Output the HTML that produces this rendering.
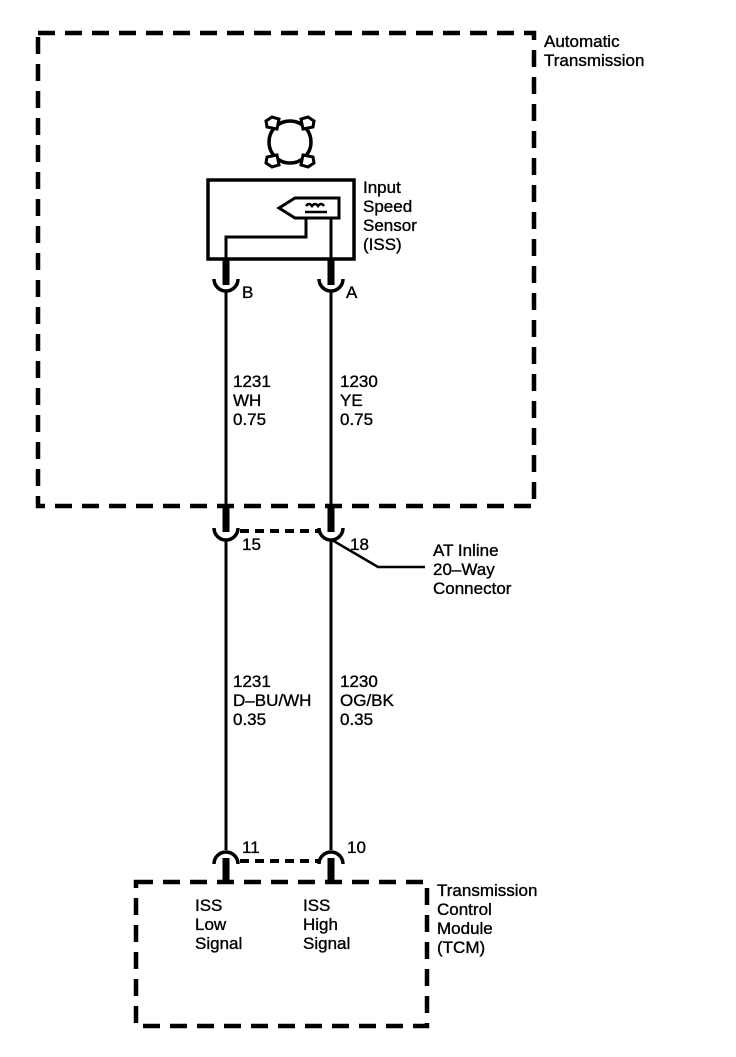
<!DOCTYPE html>
<html><head><style>
html,body{margin:0;padding:0;background:#fff;}
svg text{font-family:"Liberation Sans",Arial,sans-serif;font-size:17px;fill:#000;stroke:#000;stroke-width:0.35;}
</style></head><body>
<svg width="736" height="1052" viewBox="0 0 736 1052" xmlns="http://www.w3.org/2000/svg">
<g fill="none" stroke="#000">
<rect x="38" y="33" width="496" height="473" stroke-width="4.5" stroke-dasharray="17,10"/>
<rect x="136" y="882" width="291" height="144" stroke-width="4.5" stroke-dasharray="17,10"/>
<circle cx="290" cy="142" r="21" stroke-width="3.5"/>
<g stroke-width="3" fill="#fff">
<path d="M277 129 L267 127 L266 121 L272 117 L279 119 Z"/>
<path d="M303 129 L313 127 L314 121 L308 117 L301 119 Z"/>
<path d="M277 155 L267 157 L266 163 L272 167 L279 165 Z"/>
<path d="M303 155 L313 157 L314 163 L308 167 L301 165 Z"/>
</g>
<rect x="208" y="180" width="146" height="79" stroke-width="3.5"/>
<path d="M339 198 H295 L279 208 L295 218 H339 Z" stroke-width="3"/>
<path d="M306 218 V237 H226 V259" stroke-width="3"/>
<path d="M331 218 V259" stroke-width="3"/>
<path d="M306 206 q3 -4 6 0 q3 -4 6 0 q3 -4 6 0" stroke-width="2.5"/>
<path d="M305 212 H327" stroke-width="2.5"/>
<path d="M226 290 V520 M331 290 V520 M226 540 V850 M331 540 V850" stroke-width="3"/>
<path d="M226 259 V285 M331 259 V285 M226 506 V532 M331 506 V532 M226 858 V882 M331 858 V882" stroke-width="7"/>
<path d="M214 279 a12 12 0 0 0 24 0 M319 279 a12 12 0 0 0 24 0" stroke-width="3.5"/>
<path d="M214 528 a12 12 0 0 0 24 0 M319 528 a12 12 0 0 0 24 0" stroke-width="3.5"/>
<path d="M214 864 a12 12 0 0 1 24 0 M319 864 a12 12 0 0 1 24 0" stroke-width="3.5"/>
<path d="M240 531 H318" stroke-width="4" stroke-dasharray="9,6"/>
<path d="M240 861 H318" stroke-width="4" stroke-dasharray="9,6"/>
<path d="M332 540 L378 567 H425" stroke-width="2.5"/>
</g>
<text x="544" y="47">Automatic</text>
<text x="544" y="66">Transmission</text>
<text x="363" y="193">Input</text>
<text x="363" y="212">Speed</text>
<text x="363" y="231">Sensor</text>
<text x="363" y="250">(ISS)</text>
<text x="242" y="298">B</text>
<text x="346" y="298">A</text>
<text x="233" y="387">1231</text>
<text x="233" y="406">WH</text>
<text x="233" y="425">0.75</text>
<text x="340" y="387">1230</text>
<text x="340" y="406">YE</text>
<text x="340" y="425">0.75</text>
<text x="242" y="550">15</text>
<text x="350" y="550">18</text>
<text x="433" y="556">AT Inline</text>
<text x="433" y="575">20–Way</text>
<text x="433" y="594">Connector</text>
<text x="233" y="687">1231</text>
<text x="233" y="706">D–BU/WH</text>
<text x="233" y="725">0.35</text>
<text x="340" y="687">1230</text>
<text x="340" y="706">OG/BK</text>
<text x="340" y="725">0.35</text>
<text x="242" y="853">11</text>
<text x="347" y="853">10</text>
<text x="195" y="911">ISS</text>
<text x="195" y="930">Low</text>
<text x="195" y="949">Signal</text>
<text x="303" y="911">ISS</text>
<text x="303" y="930">High</text>
<text x="303" y="949">Signal</text>
<text x="437" y="896">Transmission</text>
<text x="437" y="915">Control</text>
<text x="437" y="934">Module</text>
<text x="437" y="953">(TCM)</text>
</svg>
</body></html>
